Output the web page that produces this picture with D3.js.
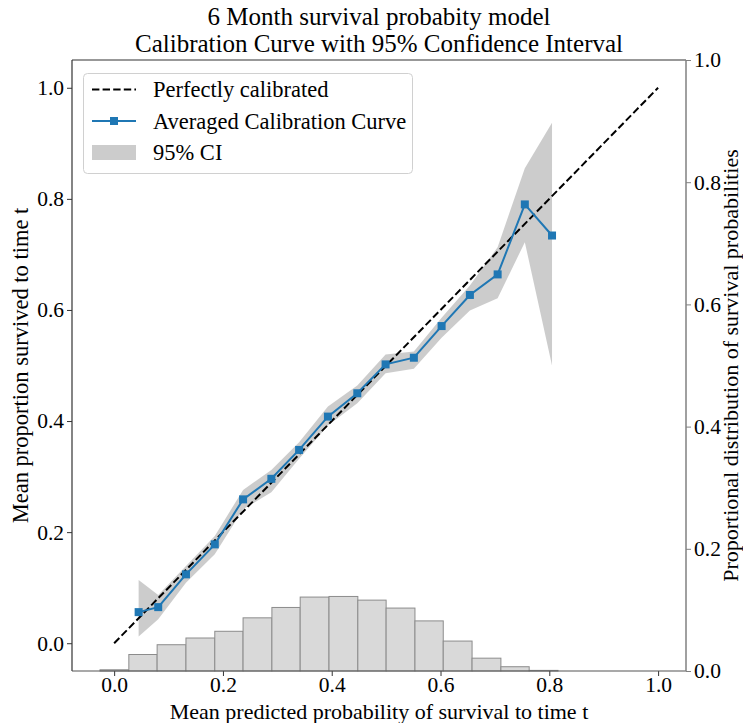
<!DOCTYPE html>
<html><head><meta charset="utf-8">
<script src="https://cdn.jsdelivr.net/npm/d3@7"></script>
<style>
body{margin:0;background:#fff}
svg{display:block}
text{font-family:"Liberation Serif","Times New Roman",serif;fill:#000}
</style>
</head><body>
<svg id="chart" width="743" height="723"></svg>
<script>
// ---------------- data ----------------
const calibX = [0.045, 0.081, 0.132, 0.185, 0.237, 0.289, 0.340, 0.393, 0.447, 0.499, 0.551, 0.602, 0.654, 0.705, 0.755, 0.805];
const calibY = [0.056, 0.065, 0.124, 0.178, 0.259, 0.296, 0.348, 0.408, 0.450, 0.502, 0.514, 0.571, 0.627, 0.664, 0.790, 0.734];
const ciLower = [0.012, 0.043, 0.109, 0.160, 0.241, 0.272, 0.332, 0.392, 0.432, 0.486, 0.494, 0.550, 0.599, 0.621, 0.722, 0.500];
const ciUpper = [0.114, 0.087, 0.139, 0.193, 0.276, 0.312, 0.362, 0.426, 0.464, 0.520, 0.525, 0.586, 0.644, 0.713, 0.855, 0.937];
const histEdges = [-0.026, 0.027, 0.079, 0.132, 0.185, 0.237, 0.290, 0.342, 0.395, 0.448, 0.500, 0.553, 0.605, 0.658, 0.711, 0.763, 0.816];
const histProportions = [0.002, 0.027, 0.043, 0.054, 0.065, 0.087, 0.104, 0.121, 0.122, 0.116, 0.103, 0.082, 0.049, 0.021, 0.007, 0.001];
const diagonal = [0.0, 1.0];
const xTicks = [0.0, 0.2, 0.4, 0.6, 0.8, 1.0];
const yTicks = [0.0, 0.2, 0.4, 0.6, 0.8, 1.0];
const y2Ticks = [0.0, 0.2, 0.4, 0.6, 0.8, 1.0];
const titleLines = ["6 Month survival probabity model", "Calibration Curve with 95% Confidence Interval"];
const xLabel = "Mean predicted probability of survival to time t";
const yLabel = "Mean proportion survived to time t";
const y2Label = "Proportional distribution of survival probabilities";
const legendLabels = ["Perfectly calibrated", "Averaged Calibration Curve", "95% CI"];

// ---------------- layout ----------------
const W = 743, H = 723;
const m = {l: 72, r: 57, t: 60, b: 52};
const pw = W - m.l - m.r, ph = H - m.t - m.b;
const FS = 22.5;
const TFS = 21.5;

const svg = d3.select("#chart");
const x = d3.scaleLinear().domain([-0.0775, 1.0513]).range([m.l, m.l + pw]);
const y = d3.scaleLinear().domain([-0.05, 1.05]).range([m.t + ph, m.t]);
const y2 = d3.scaleLinear().domain([0, 1]).range([m.t + ph, m.t]);

const plot = svg.append("g");

// CI band
const ciData = calibX.map((v, i) => ({x: v, lo: ciLower[i], hi: ciUpper[i]}));
plot.append("path")
  .datum(ciData)
  .attr("d", d3.area().x(d => x(d.x)).y0(d => y(d.lo)).y1(d => y(d.hi)))
  .attr("fill", "#808080").attr("fill-opacity", 0.4).attr("stroke", "none");

// diagonal
plot.append("path")
  .datum(diagonal)
  .attr("d", d3.line().x(d => x(d)).y(d => y(d)))
  .attr("fill", "none").attr("stroke", "#000").attr("stroke-width", 2)
  .attr("stroke-dasharray", "7.4,3.2");

// calibration line
const pts = calibX.map((v, i) => ({x: v, y: calibY[i]}));
plot.append("path")
  .datum(pts)
  .attr("d", d3.line().x(d => x(d.x)).y(d => y(d.y)))
  .attr("fill", "none").attr("stroke", "#1f77b4").attr("stroke-width", 2);
const ms = 8;
plot.selectAll("rect.mk").data(pts).enter().append("rect")
  .attr("class", "mk")
  .attr("x", d => x(d.x) - ms / 2).attr("y", d => y(d.y) - ms / 2)
  .attr("width", ms).attr("height", ms).attr("fill", "#1f77b4");

// histogram (twin axis)
const bins = histProportions.map((p, i) => ({x0: histEdges[i], x1: histEdges[i + 1], p}));
plot.selectAll("rect.bar").data(bins).enter().append("rect")
  .attr("class", "bar")
  .attr("x", d => x(d.x0)).attr("width", d => x(d.x1) - x(d.x0))
  .attr("y", d => y2(d.p)).attr("height", d => y2(0) - y2(d.p))
  .attr("fill", "#d9d9d9").attr("stroke", "#8c8c8c").attr("stroke-width", 1);

// ---------------- axes ----------------
function styleAxis(g, color) {
  g.selectAll("path.domain").remove();
  g.selectAll(".tick line").attr("stroke", color).attr("stroke-width", 1);
  g.selectAll(".tick text").attr("font-size", TFS).attr("font-family", '"Liberation Serif","Times New Roman",serif').attr("fill", "#000");
}
const gx = svg.append("g").attr("transform", `translate(0,${m.t + ph})`)
  .call(d3.axisBottom(x).tickValues(xTicks).tickFormat(d3.format(".1f")).tickSize(5).tickPadding(1));
styleAxis(gx, "#333");
const gy = svg.append("g").attr("transform", `translate(${m.l},0)`)
  .call(d3.axisLeft(y).tickValues(yTicks).tickFormat(d3.format(".1f")).tickSize(5).tickPadding(3));
styleAxis(gy, "#333");
const gy2 = svg.append("g").attr("transform", `translate(${m.l + pw},0)`)
  .call(d3.axisRight(y2).tickValues(y2Ticks).tickFormat(d3.format(".1f")).tickSize(5).tickPadding(3));
styleAxis(gy2, "#808080");

// spines
svg.append("line").attr("x1", m.l).attr("x2", m.l).attr("y1", m.t).attr("y2", m.t + ph).attr("stroke", "#333").attr("stroke-width", 1.2);
svg.append("line").attr("x1", m.l).attr("x2", m.l + pw).attr("y1", m.t).attr("y2", m.t).attr("stroke", "#333").attr("stroke-width", 1.2);
svg.append("line").attr("x1", m.l).attr("x2", m.l + pw).attr("y1", m.t + ph).attr("y2", m.t + ph).attr("stroke", "#555").attr("stroke-width", 1.2);
svg.append("line").attr("x1", m.l + pw).attr("x2", m.l + pw).attr("y1", m.t).attr("y2", m.t + ph).attr("stroke", "#808080").attr("stroke-width", 1.5);

// ---------------- labels ----------------
const cx = m.l + pw / 2;
svg.append("text").attr("x", cx).attr("y", 25).attr("text-anchor", "middle").attr("font-size", 25).text(titleLines[0]);
svg.append("text").attr("x", cx).attr("y", 52).attr("text-anchor", "middle").attr("font-size", 25).text(titleLines[1]);
svg.append("text").attr("x", cx).attr("y", 718.5).attr("text-anchor", "middle").attr("font-size", 22).text(xLabel);
svg.append("text").attr("transform", `translate(28,${m.t + ph / 2}) rotate(-90)`).attr("text-anchor", "middle").attr("font-size", FS).text(yLabel);
svg.append("text").attr("transform", `translate(738,${m.t + ph / 2}) rotate(-90)`).attr("text-anchor", "middle").attr("font-size", 22).text(y2Label);

// ---------------- legend ----------------
const lg = svg.append("g");
lg.append("rect").attr("x", 83.5).attr("y", 73.5).attr("width", 329).attr("height", 100).attr("rx", 4)
  .attr("fill", "#fff").attr("fill-opacity", 0.8).attr("stroke", "#d0d0d0").attr("stroke-width", 1);
const hx0 = 92, hx1 = 136, tx = 153;
const rowY = [89.5, 121, 152.5];
lg.append("line").attr("x1", hx0).attr("x2", hx1).attr("y1", rowY[0]).attr("y2", rowY[0])
  .attr("stroke", "#000").attr("stroke-width", 2).attr("stroke-dasharray", "7.4,3.2");
lg.append("line").attr("x1", hx0).attr("x2", hx1).attr("y1", rowY[1]).attr("y2", rowY[1])
  .attr("stroke", "#1f77b4").attr("stroke-width", 2);
lg.append("rect").attr("x", (hx0 + hx1) / 2 - ms / 2).attr("y", rowY[1] - ms / 2).attr("width", ms).attr("height", ms).attr("fill", "#1f77b4");
lg.append("rect").attr("x", hx0).attr("y", rowY[2] - 7.5).attr("width", hx1 - hx0).attr("height", 15)
  .attr("fill", "#808080").attr("fill-opacity", 0.4);
legendLabels.forEach((t, i) => {
  lg.append("text").attr("x", tx).attr("y", rowY[i]).attr("dy", "0.35em").attr("font-size", FS).text(t);
});
</script>
</body></html>
